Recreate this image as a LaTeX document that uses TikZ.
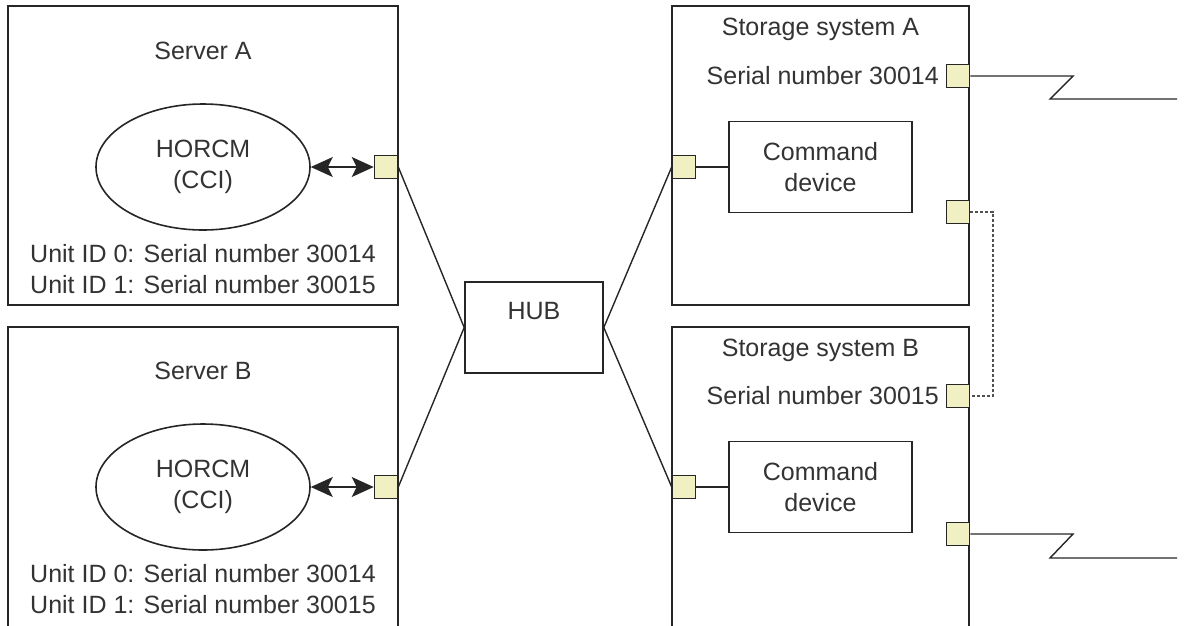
\documentclass[tikz,border=0pt]{standalone}
\usepackage{fontspec}
\setmainfont{Liberation Sans}
\usetikzlibrary{arrows.meta,shapes.geometric}
\definecolor{ln}{HTML}{262626}
\definecolor{tx}{HTML}{333333}
\definecolor{portfill}{HTML}{F0F0C2}
\begin{document}
\begin{tikzpicture}[x=1pt,y=-1pt,
  every node/.style={font=\fontsize{25}{31}\selectfont, text=tx},
  box/.style={draw=ln, line width=1.6pt, inner sep=0pt, fill=white},
  port/.style={draw=ln, line width=1.6pt, fill=portfill, minimum width=23pt, minimum height=23pt, inner sep=0pt},
  conn/.style={draw=ln, line width=1.4pt},
  dconn/.style={draw=ln!80, line width=1.5pt, dash pattern=on 3pt off 2pt},
  dbl/.style={draw=ln, line width=1.5pt, {Stealth[length=22pt,width=20pt,inset=5pt]}-{Stealth[length=22pt,width=20pt,inset=5pt]}},
  lbl/.style={inner sep=0pt, align=center}
]
\useasboundingbox (0,0) rectangle (1184,625);
\clip (0,0) rectangle (1184,625);

% Boxes
\node[box, minimum width=390pt, minimum height=299pt] (srvA) at (203,155.5) {};
\node[box, minimum width=390pt, minimum height=393pt] (srvB) at (203,523.5) {};
\node[box, minimum width=297pt, minimum height=299pt] (stA) at (820.5,155.5) {};
\node[box, minimum width=297pt, minimum height=393pt] (stB) at (820.5,523.5) {};
\node[box, minimum width=138pt, minimum height=91pt] (hub) at (534,327.5) {};
\node[lbl] (hubt) at (534,311) {HUB};

% Server A
\node[lbl] (srvAt) at (203,51) {Server A};
\node[box, ellipse, minimum width=214pt, minimum height=126pt, align=center] (eA) at (203,167) {HORCM\\(CCI)};
\node[lbl] (uA) at (203,269) {Unit ID 0: Serial number 30014\\Unit ID 1: Serial number 30015};
\node[port] (pA) at (386,167) {};

% Server B
\node[lbl] (srvBt) at (203,371) {Server B};
\node[box, ellipse, minimum width=214pt, minimum height=126pt, align=center] (eB) at (203,487) {HORCM\\(CCI)};
\node[lbl] (uB) at (203,589) {Unit ID 0: Serial number 30014\\Unit ID 1: Serial number 30015};
\node[port] (pB) at (386,487) {};

% Storage A
\node[lbl] (stAt) at (820.5,29) {Storage system A};
\node[lbl, anchor=east] (serA) at (939,76) {Serial number 30014};
\node[port] (aS) at (958,76) {};
\node[port] (aL) at (684,167) {};
\node[port] (aR) at (958,212) {};
\node[box, minimum width=183pt, minimum height=91pt, align=center] (cmdA) at (820.5,167) {Command\\device};

% Storage B
\node[lbl] (stBt) at (820.5,350) {Storage system B};
\node[lbl, anchor=east] (serB) at (939,396) {Serial number 30015};
\node[port] (bS) at (958,396) {};
\node[port] (bL) at (684,487) {};
\node[port] (bR) at (958,534) {};
\node[box, minimum width=183pt, minimum height=91pt, align=center] (cmdB) at (820.5,487) {Command\\device};

% Connectors
\draw[dbl] (eA.east) -- (pA.west);
\draw[dbl] (eB.east) -- (pB.west);
\draw[conn] (pA.east) -- (hub.west);
\draw[conn] (pB.east) -- (hub.west);
\draw[conn] (hub.east) -- (aL.west);
\draw[conn] (hub.east) -- (bL.west);
\draw[conn] (aL.east) -- (cmdA.west);
\draw[conn] (bL.east) -- (cmdB.west);

\coordinate (dk) at (993,0);
\draw[dconn] (aR.east) -- (aR.east -| dk) -- (bS.east -| dk) -- (bS.east);

\coordinate (zA1) at (1073,76);
\coordinate (zA2) at (1050,99);
\coordinate (zA3) at (1177,99);
\draw[conn] (aS.east) -- (zA1) -- (zA2) -- (zA3);
\coordinate (zB1) at (1073,534);
\coordinate (zB2) at (1050,558);
\coordinate (zB3) at (1177,558);
\draw[conn] (bR.east) -- (zB1) -- (zB2) -- (zB3);
\end{tikzpicture}
\end{document}
